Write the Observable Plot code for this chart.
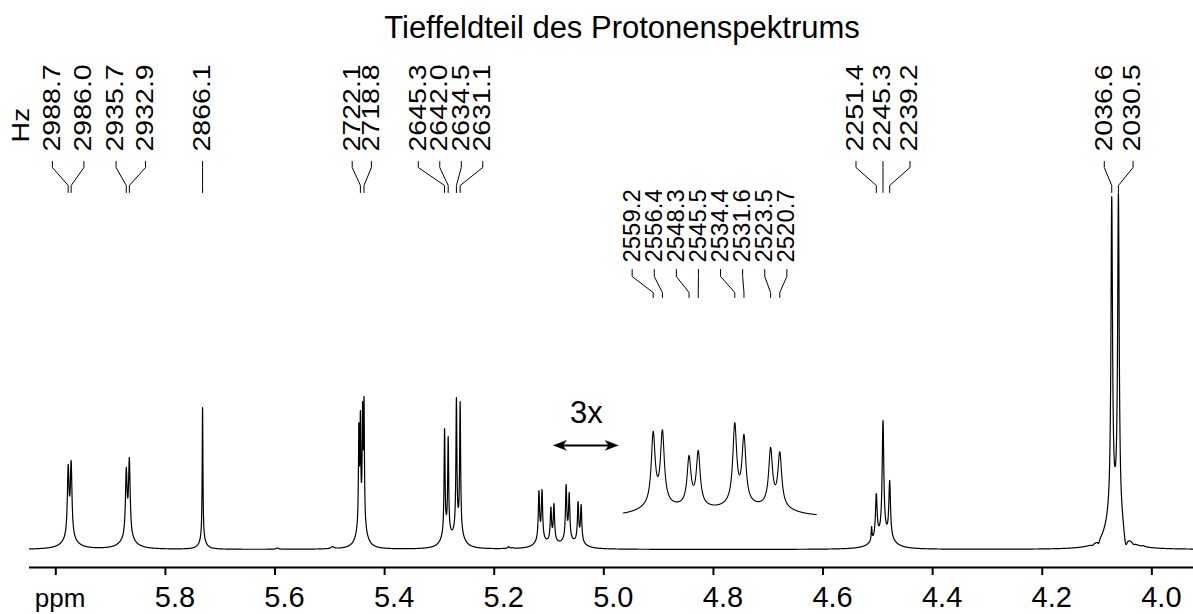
<!DOCTYPE html>
<html><head><meta charset="utf-8">
<script src="https://cdn.jsdelivr.net/npm/d3@7"></script>
<script src="https://cdn.jsdelivr.net/npm/@observablehq/plot@0.6"></script>
<style>
body{margin:0;background:#fff;font-family:"Liberation Sans",Arial,sans-serif;}
#title{position:relative;height:48px;width:1193px;}
#title span{position:absolute;left:622px;top:12px;transform:translateX(-50%);font-size:31px;line-height:31px;white-space:nowrap;color:#000}
#chart svg{display:block;overflow:visible}
</style></head><body>
<div id="title"><span>Tieffeldteil des Protonenspektrums</span></div>
<div id="chart"></div>
<script>
// ---------------- data ----------------
const MHz = 500;                       // spectrometer frequency
// labelled line maxima (Hz), their heights above baseline, half widths (Hz), group
const labelHz     = [2988.7, 2986.0, 2935.7, 2932.9, 2866.1, 2722.1, 2718.8,
                     2645.3, 2642.0, 2634.5, 2631.1,
                     2559.2, 2556.4, 2548.3, 2545.5, 2534.4, 2531.6, 2523.5, 2520.7,
                     2251.4, 2245.3, 2239.2, 2036.6, 2030.5];
const labelHeight = [85, 89, 82, 92, 142, 139, 153,
                     121, 113, 152, 148,
                     59, 60, 42.5, 46, 65, 57, 48, 45,
                     56, 129, 69, 353, 356];
const labelWidth  = [0.9, 0.9, 0.9, 0.9, 0.4, 0.45, 0.45,
                     0.53, 0.53, 0.53, 0.53,
                     0.7, 0.7, 0.7, 0.7, 0.7, 0.7, 0.7, 0.7,
                     0.9, 0.9, 0.9, 0.85, 0.85];
const labelGroup  = [0,0,1,1,2,3,3,4,4,4,4,5,5,5,5,5,5,5,5,6,6,6,7,7];
// unlabelled lines
const extraHz     = [2723.5, 2720.1, 2255.7, 2797.7, 2747.5, 2587.0, 2583.4, 2054.1, 2048.6, 2024.0, 2016.7, 2007.6];
const extraHeight = [127, 148, 23, 1.5, 3, 3, 2, 4, 6, 6, 5, 4];
const extraWidth  = [0.45, 0.45, 0.45, 1.2, 1.5, 0.8, 0.8, 1.0, 1.0, 2.0, 1.0, 1.0];
// axis ticks (ppm)
const tickPpm   = [6.0, 5.8, 5.6, 5.4, 5.2, 5.0, 4.8, 4.6, 4.4, 4.2, 4.0];
const tickLabel = ["", "5.8", "5.6", "5.4", "5.2", "5.0", "4.8", "4.6", "4.4", "4.2", "4.0"];
// 3x expansion of the multiplet
const insetHzRange = [2509.6, 2568.3];
const insetStretch = 3;
const insetGain = 1.46;

// ---------------- layout ----------------
const xDomain = [6.048, 3.924];
const W = 1193, H = 566, mL = 29, mR = 0, mT = 0, mB = 47;
const pxPerPpm = (W - mL - mR) / (xDomain[0] - xDomain[1]);
const insetCenterPpm = 4.7944, insetLift = 32;
const groupLayout = [
  {spacing: 31.5, shift: -1.5}, {spacing: 29.5, shift: 3}, {spacing: 0, shift: 0},
  {spacing: 19.2, shift: -0.4}, {spacing: 21.5, shift: -1.8}, {spacing: 22.1, shift: -7},
  {spacing: 27, shift: 0}, {spacing: 28.8, shift: 3.6}
];
const insetGroup = 5;
const mainLevels = {label: 398, c: [388, 382, 364, 357]};
const insetLevels = {label: 287, c: [280, 273, 257, 252]};

// ---------------- line shape ----------------
const footFrac = 0.07, footScale = 8;
function shape(d, w) {
  const a = d / w, b = d / (w * footScale);
  return (1 - footFrac) / (1 + a * a) + footFrac / (1 + b * b);
}
const lines = labelHz.map((hz, i) => ({hz, t: labelHeight[i], w: labelWidth[i]}))
  .concat(extraHz.map((hz, i) => ({hz, t: extraHeight[i], w: extraWidth[i]})));
// amplitudes so that summed spectrum reproduces the read heights
lines.forEach(l => l.a = l.t);
for (let it = 0; it < 300; it++) {
  for (const li of lines) {
    let s = 0;
    for (const lj of lines) s += lj.a * shape(li.hz - lj.hz, lj.w) / shape(0, lj.w);
    li.a += 0.7 * (li.t - s);
  }
}
function S(hz) {
  let s = 0;
  for (const l of lines) s += l.a * shape(hz - l.hz, l.w) / shape(0, l.w);
  return s;
}
const spec = [];
const hzMax = xDomain[0] * MHz, hzMin = xDomain[1] * MHz;
for (let hz = hzMax; hz >= hzMin; hz -= 0.05) spec.push({ppm: hz / MHz, v: S(hz)});

const multCenterPpm = d3.mean(labelHz.filter((_, i) => labelGroup[i] === insetGroup)) / MHz;
const toInset = ppm => insetCenterPpm + insetStretch * (ppm - multCenterPpm);
const insetData = [];
for (let hz = insetHzRange[1]; hz >= insetHzRange[0]; hz -= 0.02)
  insetData.push({ppm: toInset(hz / MHz), v: insetLift + insetGain * S(hz)});

// ---------------- labels & connectors ----------------
const labelsMain = [], labelsInset = [], connectors = [];
d3.groups(labelHz.map((hz, i) => ({hz, i, g: labelGroup[i]})), d => d.g).forEach(([g, items]) => {
  const isInset = g === insetGroup;
  const lev = isInset ? insetLevels : mainLevels;
  const peaks = items.map(d => isInset ? toInset(d.hz / MHz) : d.hz / MHz);
  const mean = d3.mean(peaks);
  const {spacing, shift} = groupLayout[g];
  const n = items.length;
  items.forEach((d, k) => {
    const lx = mean - (shift + (k - (n - 1) / 2) * spacing) / pxPerPpm;
    (isInset ? labelsInset : labelsMain).push({x: lx, y: lev.label, text: d.hz.toFixed(1)});
    [[lx, lev.c[0]], [lx, lev.c[1]], [peaks[k], lev.c[2]], [peaks[k], lev.c[3]]]
      .forEach(([x, y]) => connectors.push({x, y, id: d.i}));
  });
});

// double arrow of the expansion note
const arrowLeft = toInset(insetHzRange[1] / MHz) + 70 / pxPerPpm;
const arrowRight = toInset(insetHzRange[1] / MHz) + 5 / pxPerPpm;
const arrowV = 104;
const heads = [];
[[arrowLeft, 1], [arrowRight, -1]].forEach(([x0, dir], h) => {
  const u = dir / pxPerPpm; // one pixel toward the inside, in ppm
  [[0, 0], [13, 5], [9.5, 0], [13, -5]].forEach(([dx, dy]) =>
    heads.push({x: x0 - dx * u, y: arrowV + dy, h}));
});

const fnt = "Liberation Sans, Arial, sans-serif";
const plot = Plot.plot({
  width: W, height: H, marginLeft: mL, marginRight: mR, marginTop: mT, marginBottom: mB,
  x: {domain: xDomain, axis: null},
  y: {domain: [-18, H - mB - mT - 18], axis: null},
  style: {fontFamily: fnt, background: "white", color: "black"},
  marks: [
    Plot.ruleY([-18], {stroke: "black", strokeWidth: 2}),
    Plot.axisX({ticks: tickPpm, tickFormat: () => "", tickSize: 8, strokeWidth: 2,
      stroke: "black", label: null}),
    Plot.axisX({ticks: tickPpm, tickFormat: d => tickLabel[tickPpm.indexOf(d)], tickSize: 0,
      tickPadding: 19, fontSize: 29, dx: 9.5, fill: "black", label: null}),
    Plot.text(["ppm"], {x: xDomain[0] - 30.5 / pxPerPpm, y: -49, text: d => d, fontSize: 26,
      lineAnchor: "middle", fill: "black"}),
    Plot.line(spec, {x: "ppm", y: "v", stroke: "black", strokeWidth: 1.2}),
    Plot.line(insetData, {x: "ppm", y: "v", stroke: "black", strokeWidth: 1.1}),
    Plot.line(connectors, {x: "x", y: "y", z: "id", stroke: "black", strokeWidth: 1}),
    Plot.text(labelsMain, {x: "x", y: "y", text: "text", rotate: -90, textAnchor: "start",
      lineAnchor: "middle", fontSize: 23, fill: "black"}),
    Plot.text(labelsInset, {x: "x", y: "y", text: "text", rotate: -90, textAnchor: "start",
      lineAnchor: "middle", fontSize: 23, fill: "black"}),
    Plot.text(["Hz"], {x: xDomain[0] + 8 / pxPerPpm, y: 407, text: d => d, rotate: -90,
      textAnchor: "start", lineAnchor: "middle", fontSize: 23, fill: "black"}),
    Plot.text(["3x"], {x: arrowLeft - 33 / pxPerPpm, y: 136, text: d => d, fontSize: 31,
      lineAnchor: "middle", fill: "black"}),
    Plot.ruleY([arrowV], {x1: arrowLeft - 6 / pxPerPpm, x2: arrowRight + 6 / pxPerPpm, stroke: "black", strokeWidth: 2}),
    Plot.line(heads, {x: "x", y: "y", z: "h", fill: "black", stroke: "black", strokeWidth: 0.5})
  ]
});
document.getElementById("chart").appendChild(plot);
// the peak labels of the original are drawn elongated along the text direction
const mainSet = new Set(labelsMain.map(d => d.text).concat(["Hz"]));
const insetSet = new Set(labelsInset.map(d => d.text));
plot.querySelectorAll("text").forEach(t => {
  const s = t.textContent.trim();
  const k = mainSet.has(s) ? 1.24 : insetSet.has(s) ? 1.04 : 0;
  if (!k) return;
  const len = t.getComputedTextLength();
  if (len > 0) {
    t.setAttribute("textLength", (len * k).toFixed(1));
    t.setAttribute("lengthAdjust", "spacingAndGlyphs");
  }
});
</script>
</body></html>
